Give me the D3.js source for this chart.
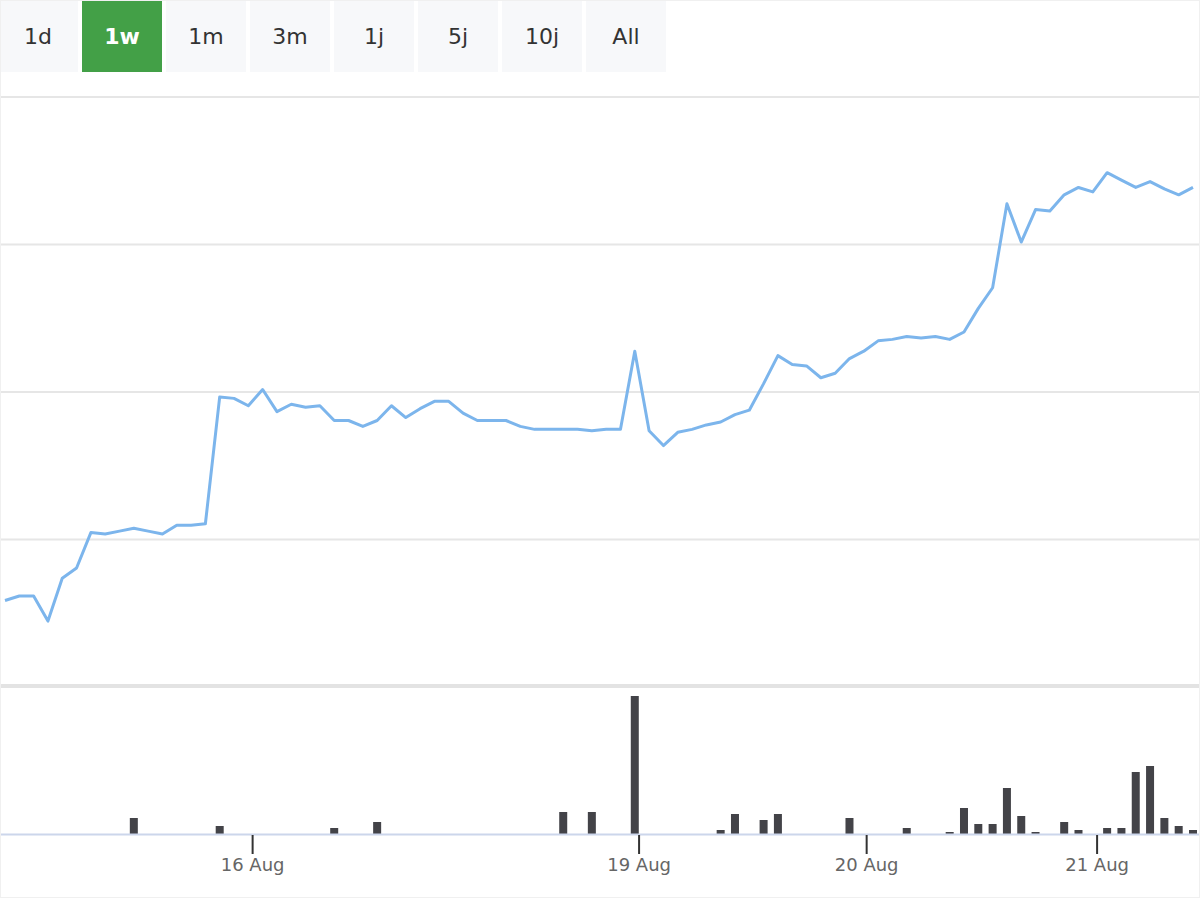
<!DOCTYPE html>
<meta charset="utf-8">
<title>1w chart</title>
<body style="margin:0;background:#fff">
<svg id="chart" width="1200" height="900"></svg>
<script src="https://d3js.org/d3.v7.min.js"></script>
<script>
// range buttons
var ranges = ["1d", "1w", "1m", "3m", "1j", "5j", "10j", "All"];
var activeRange = "1w";

// price per point (units, gridline = 1)
var price = [0.58,0.61,0.61,0.44,0.73,0.80,1.04,1.03,1.05,1.07,1.05,1.03,1.09,1.09,1.10,1.96,1.95,1.90,2.01,1.86,1.91,1.89,1.90,1.80,1.80,1.76,1.80,1.90,1.82,1.88,1.93,1.93,1.85,1.80,1.80,1.80,1.76,1.74,1.74,1.74,1.74,1.73,1.74,1.74,2.27,1.73,1.63,1.72,1.74,1.77,1.79,1.84,1.87,2.05,2.24,2.18,2.17,2.09,2.12,2.22,2.27,2.34,2.35,2.37,2.36,2.37,2.35,2.40,2.56,2.70,3.27,3.01,3.23,3.22,3.33,3.38,3.35,3.48,3.43,3.38,3.42,3.37,3.33,3.38];

// volume at point index
var volIndex = [9,15,23,26,39,41,44,50,51,53,54,59,63,66,67,68,69,70,71,72,74,75,77,78,79,80,81,82,83];
var volValue = [16,8,6,12,22,22,138,4,20,14,20,16,6,2,26,10,10,46,18,2,12,4,6,6,62,68,16,8,4];

// date ticks (fractional point index)
var tickPos = [17.3, 44.3, 60.2, 76.3];
var tickLabels = ["16 Aug", "19 Aug", "20 Aug", "21 Aug"];

var svg = d3.select("#chart");
var font = "'DejaVu Sans', sans-serif";

// buttons
var bx = d3.scalePoint().domain(ranges).range([-2, -2 + 84 * (ranges.length - 1)]);
var btn = svg.selectAll(".btn").data(ranges).enter().append("g")
  .attr("transform", function(d){ return "translate(" + bx(d) + ",0)"; });
btn.append("rect").attr("width", 80).attr("height", 72)
  .attr("fill", function(d){ return d == activeRange ? "#43a047" : "#f7f8fa"; });
btn.append("text").attr("x", 40).attr("y", 44).attr("text-anchor", "middle")
  .attr("font-family", font).attr("font-size", 22)
  .attr("font-weight", function(d){ return d == activeRange ? "bold" : "normal"; })
  .attr("fill", function(d){ return d == activeRange ? "#fff" : "#333"; })
  .text(function(d){ return d; });

var x = d3.scaleLinear().domain([0, price.length - 1]).range([5, 1193]);
var y = d3.scaleLinear().domain([0, 4]).range([687, 97]);
var yv = d3.scaleLinear().domain([0, 138]).range([834, 696]);

// grid
svg.selectAll(".grid").data(d3.range(1, 5)).enter().append("line")
  .attr("x1", 0).attr("x2", 1200)
  .attr("y1", function(d){ return y(d); }).attr("y2", function(d){ return y(d); })
  .attr("stroke", "#e6e6e6").attr("stroke-width", 2);
svg.append("rect").attr("x", 0).attr("y", 684).attr("width", 1200).attr("height", 4).attr("fill", "#e3e3e3");

// line
svg.append("path").datum(price)
  .attr("d", d3.line().x(function(d, i){ return x(i); }).y(function(d){ return y(d) - 1; }))
  .attr("fill", "none").attr("stroke", "#7cb5ec").attr("stroke-width", 3).attr("stroke-linejoin", "round");

// volume
svg.selectAll(".vol").data(volIndex).enter().append("rect")
  .attr("x", function(d){ return x(d) - 4; }).attr("width", 8)
  .attr("y", function(d, i){ return yv(volValue[i]); })
  .attr("height", function(d, i){ return 834 - yv(volValue[i]); })
  .attr("fill", "#434348");

// x axis
svg.append("line").attr("x1", 0).attr("x2", 1200).attr("y1", 834.5).attr("y2", 834.5).attr("stroke", "#ccd6eb").attr("stroke-width", 2);
var t = svg.selectAll(".tick").data(tickPos).enter().append("g")
  .attr("transform", function(d){ return "translate(" + x(d) + ",0)"; });
t.append("line").attr("y1", 835).attr("y2", 854).attr("stroke", "#333").attr("stroke-width", 2);
t.append("text").attr("y", 871).attr("text-anchor", "middle").attr("font-family", font)
  .attr("font-size", 18).attr("fill", "#666").text(function(d, i){ return tickLabels[i]; });

svg.append("rect").attr("x", 0.5).attr("y", 0.5).attr("width", 1199).attr("height", 897).attr("fill", "none").attr("stroke", "#f0f0f0");
</script>
</body>
